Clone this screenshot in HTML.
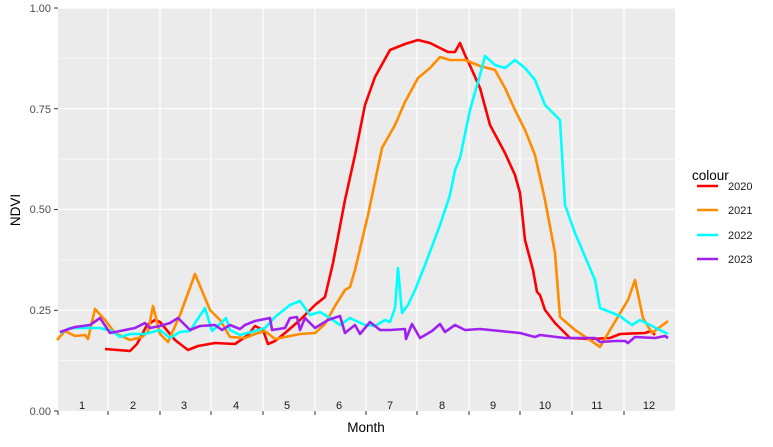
<!DOCTYPE html><html><head><style>body{margin:0;background:#fff}svg{font-family:"Liberation Sans",sans-serif}</style></head><body>
<svg width="773" height="442" xmlns="http://www.w3.org/2000/svg">
<rect x="58" y="8" width="617" height="403" fill="#ebebeb"/>
<g stroke="#fff" stroke-width="0.6"><line x1="58" x2="675" y1="360.6" y2="360.6"/><line x1="58" x2="675" y1="259.9" y2="259.9"/><line x1="58" x2="675" y1="159.1" y2="159.1"/><line x1="58" x2="675" y1="58.4" y2="58.4"/></g>
<g stroke="#fff" stroke-width="1.2"><line x1="58" x2="675" y1="310.2" y2="310.2"/><line x1="58" x2="675" y1="209.5" y2="209.5"/><line x1="58" x2="675" y1="108.7" y2="108.7"/><line x1="58" x2="675" y1="8" y2="8"/>
<path d="M108 8V411M160 8V411M211 8V411M263 8V411M315 8V411M366 8V411M417 8V411M469 8V411M520 8V411M572 8V411M624 8V411"/></g>
<g stroke="#333" stroke-width="1"><path d="M54 411H58M54 310.2H58M54 209.5H58M54 108.7H58M54 8H58"/><path d="M58 411V415M108 411V415M160 411V415M211 411V415M263 411V415M315 411V415M366 411V415M417 411V415M469 411V415M520 411V415M572 411V415M624 411V415"/></g>
<g font-size="11" fill="#4d4d4d" text-anchor="end"><text x="51" y="415">0.00</text><text x="51" y="314">0.25</text><text x="51" y="213">0.50</text><text x="51" y="113">0.75</text><text x="51" y="12">1.00</text></g>
<g font-size="11" fill="#1a1a1a" text-anchor="middle"><text x="82" y="409">1</text><text x="133" y="409">2</text><text x="184" y="409">3</text><text x="236" y="409">4</text><text x="287" y="409">5</text><text x="339" y="409">6</text><text x="390" y="409">7</text><text x="442" y="409">8</text><text x="493" y="409">9</text><text x="545" y="409">10</text><text x="597" y="409">11</text><text x="649" y="409">12</text></g>
<text x="366" y="432" font-size="13.5" text-anchor="middle">Month</text>
<text transform="translate(20,210) rotate(-90)" font-size="13.5" text-anchor="middle">NDVI</text>
<g fill="none" stroke-width="2.6" stroke-linejoin="round">
<polyline stroke="#ff0000" points="105,349 130,351 137,344 147,325 155,320 160,322 175,340 188,350 198,346 215,343 235,344 248,335 255,326 263,330 268,344 275,341 285,333 300,320 315,305 325,297 333,263 345,200 355,155 365,105 375,77 390,50 405,44 418,40 430,43 448,52 455,52 460,43 465,55 472,70 480,88 490,125 505,153 515,175 520,193 525,240 533,270 537,292 540,295 545,310 555,323 570,338 590,339 610,338 620,334 645,333 651,331 655,335"/>
<polyline stroke="#ff8c00" points="57,340 65,331 75,336 85,335 88,339 95,309 105,320 115,333 130,340 142,337 148,332 153,306 160,334 168,342 180,315 195,274 210,310 220,320 230,337 245,338 255,334 265,331 275,339 300,334 315,333 325,324 335,306 345,290 350,287 355,270 368,215 382,148 395,125 405,102 418,78 430,68 440,57 450,60 465,60 480,66 495,70 505,88 515,110 525,130 535,155 545,200 555,253 560,317 575,330 590,340 600,347 610,330 628,300 635,280 643,318 652,333 668,321"/>
<polyline stroke="#00ffff" points="60,333 70,328 85,328 100,328 112,331 120,337 130,334 145,334 160,330 170,338 180,332 190,331 197,320 205,308 212,331 222,322 226,318 230,330 240,335 255,331 265,328 275,317 290,305 300,301 310,315 320,312 330,318 340,325 350,318 365,325 375,326 385,320 390,322 395,308 398,268 402,313 408,305 415,290 425,265 440,225 450,195 455,170 460,158 470,110 480,75 485,56 495,65 505,68 515,60 525,68 535,80 545,105 555,115 560,120 565,205 575,233 595,280 600,308 610,312 620,316 625,320 632,325 640,320 660,330 668,334"/>
<polyline stroke="#a020f0" points="60,332 75,327 90,325 100,318 110,333 120,331 135,328 145,323 150,328 160,326 170,323 178,318 190,330 200,326 215,325 222,330 230,325 240,329 245,325 255,321 270,318 272,330 285,328 290,318 297,317 300,330 305,318 315,328 328,320 340,316 345,333 355,325 360,334 370,322 380,330 390,330 405,329 406,339 412,324 420,338 432,331 440,324 445,332 455,325 465,330 480,329 500,331 520,333 535,337 540,335 565,338 595,338 600,342 615,341 625,341 628,343 635,337 655,338 665,336 668,338"/>
</g>
<text x="692" y="180" font-size="13.5">colour</text>
<g stroke-width="2.6"><line x1="697" x2="718" y1="186" y2="186" stroke="#ff0000"/><line x1="697" x2="718" y1="210" y2="210" stroke="#ff8c00"/><line x1="697" x2="718" y1="235" y2="235" stroke="#00ffff"/><line x1="697" x2="718" y1="259" y2="259" stroke="#a020f0"/></g>
<g font-size="11" fill="#1a1a1a"><text x="728" y="190">2020</text><text x="728" y="214">2021</text><text x="728" y="239">2022</text><text x="728" y="263">2023</text></g>
</svg></body></html>
